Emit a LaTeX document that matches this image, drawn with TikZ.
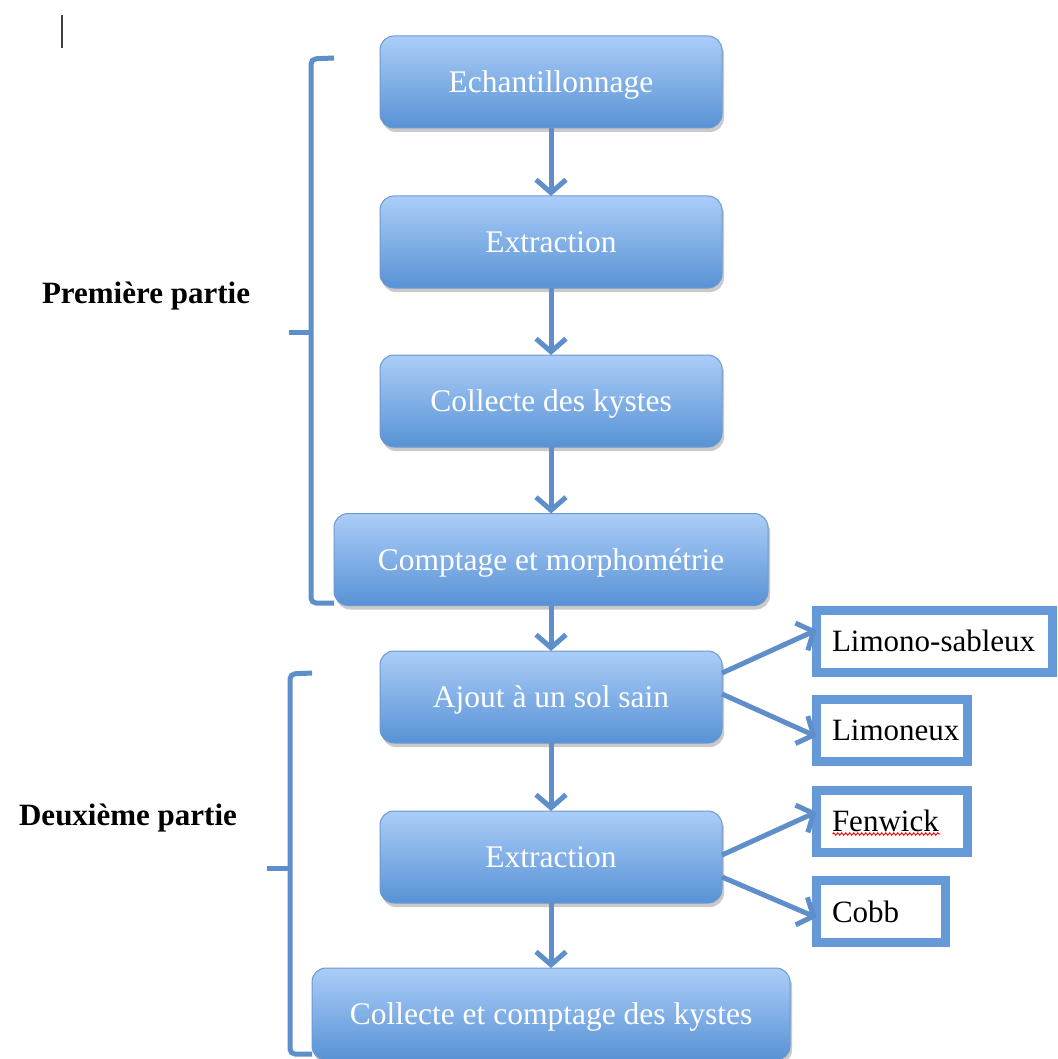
\documentclass[tikz,border=0pt]{standalone}
\usepackage{fontspec}
\setmainfont{Liberation Serif}
\usetikzlibrary{arrows.meta,shadows,decorations.pathmorphing,calc}
\definecolor{boxtop}{HTML}{ABCDF8}
\definecolor{boxbot}{HTML}{5892D5}
\definecolor{boxedge}{HTML}{6B9AD0}
\definecolor{linkblue}{HTML}{5E8FCB}
\definecolor{framblue}{HTML}{6599D8}
\tikzset{
  stepbox/.style={rectangle, rounded corners=14pt, top color=boxtop, bottom color=boxbot,
    draw=boxedge, line width=1pt, minimum height=92pt, minimum width=342pt,
    text height=24pt, text depth=3pt,
    inner sep=0pt, outer sep=0pt, text=white, font=\fontsize{31.5}{36}\selectfont,
    drop shadow={shadow xshift=2pt, shadow yshift=-4pt, opacity=0.35, fill=black!60}},
  sidebox/.style={rectangle, draw=framblue, line width=9pt, fill=white, minimum height=62pt,
    inner xsep=15.5pt, inner ysep=0pt, outer sep=0pt, align=left, anchor=west,
    font=\fontsize{31}{36}\selectfont,
    drop shadow={shadow xshift=2pt, shadow yshift=-4pt, opacity=0.3, fill=black!60}},
  flow/.style={draw=linkblue, line width=5pt, -{Straight Barb[length=13pt,width=30pt]}},
  bracket/.style={draw=linkblue, line width=5pt, rounded corners=5pt},
  partlabel/.style={font=\bfseries\fontsize{31}{36}\selectfont, text=black},
}
\begin{document}
\begin{tikzpicture}[x=1pt,y=-1pt]
\useasboundingbox (0,0) rectangle (1057,1059);
% cursor mark
\draw[line width=2pt, black!75] (62,15) -- (62,48);
% brackets
\draw[bracket] (334,58) -- (311,59) -- (311,603) -- (334,603);
\draw[bracket] (289,332) -- (311,332);
\draw[bracket] (312,673) -- (290,674) -- (290,1054) -- (312,1054);
\draw[bracket] (267,868) -- (290,868);
% labels
\node[partlabel] (part1) at (146,296) {Première partie};
\node[partlabel] (part2) at (128,818) {Deuxième partie};
% main boxes
\node[stepbox] (echant) at (551,82) {Echantillonnage};
\node[stepbox] (extra) at (551,242) {Extraction};
\node[stepbox] (collk) at (551,401) {Collecte des kystes};
\node[stepbox, minimum width=434pt] (compt) at (551,559.5) {Comptage et morphométrie};
\node[stepbox] (ajout) at (551,697) {Ajout à un sol sain};
\node[stepbox] (extrb) at (551,857) {Extraction};
\node[stepbox, minimum width=478pt] (collc) at (551,1014) {Collecte et comptage des kystes};
% side boxes
\node[sidebox, text width=205pt] (limsab) at (816.5,641) {Limono-sableux};
\node[sidebox, text width=120pt] (limon) at (816.5,730.5) {Limoneux};
\node[sidebox, text width=120pt] (fenw) at (816.5,821) {Fenwick};
\node[sidebox, text width=98pt] (cobb) at (816.5,911.5) {Cobb};
\draw[red, line width=0.9pt, decorate, decoration={snake, amplitude=1.2pt, segment length=4pt}]
  ($(fenw.west)+(16,13)$) -- ($(fenw.west)+(124,13)$);
% vertical flow
\draw[flow] (echant.south) -- (extra.north);
\draw[flow] (extra.south) -- (collk.north);
\draw[flow] (collk.south) -- (compt.north);
\draw[flow] (compt.south) -- (ajout.north);
\draw[flow] (ajout.south) -- (extrb.north);
\draw[flow] (extrb.south) -- (collc.north);
% branches
\draw[flow] ([yshift=24pt]ajout.east) -- ([yshift=11pt]limsab.west);
\draw[flow] ([yshift=3pt]ajout.east) -- ([yshift=-6pt]limon.west);
\draw[flow] ([yshift=2pt]extrb.east) -- ([yshift=9pt]fenw.west);
\draw[flow] ([yshift=-20pt]extrb.east) -- ([yshift=-6pt]cobb.west);
\end{tikzpicture}
\end{document}
